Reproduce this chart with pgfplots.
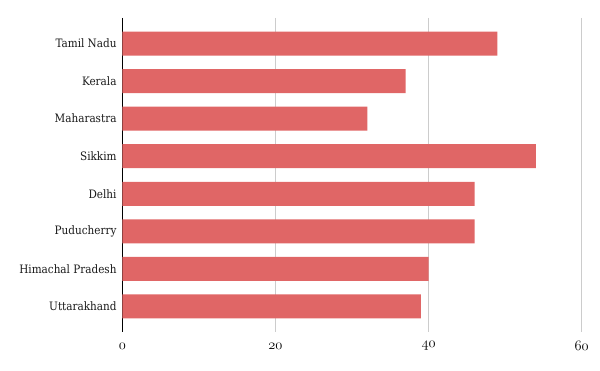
\documentclass[border=0pt]{standalone}
\usepackage{fontspec}
\setmainfont{DejaVu Serif Condensed}
\usepackage{pgfplots}
\pgfplotsset{compat=1.18}
\definecolor{barred}{HTML}{E06666}
\definecolor{gridgray}{HTML}{CCCCCC}
\definecolor{labelgray}{HTML}{1A1A1A}
\newcommand{\osn}[1]{{\fontencoding{OML}\fontfamily{lmm}\fontseries{m}\fontshape{it}\fontsize{14}{16}\selectfont #1}}
\begin{document}
\begin{tikzpicture}[x=1pt,y=1pt]
\useasboundingbox (-122.3,-39) rectangle (477.7,332);
\begin{axis}[at={(0,0)}, anchor=south west, scale only axis,
  width=459.4pt, height=314pt,
  xbar, xmin=0, xmax=60, ymin=-0.68, ymax=7.68, y dir=reverse,
  bar width=0.64,
  axis lines*=left,
  x axis line style={draw=none},
  y axis line style={draw=black, line width=0.8pt},
  major tick length=0pt,
  xtick={0,20,40,60},
  xticklabels={\osn{0},\osn{20},\osn{40},\osn{60}},
  ytick={0,...,7},
  yticklabels={Tamil Nadu,Kerala,Maharastra,Sikkim,Delhi,Puducherry,Himachal Pradesh,Uttarakhand},
  xmajorgrids, grid style={draw=gridgray, line width=0.8pt},
  yticklabel style={font=\fontsize{11.6}{13}\selectfont, text=labelgray, inner sep=0pt, anchor=east, xshift=-5.6pt},
  xticklabel style={inner sep=0pt, anchor=center, yshift=-14pt},
  clip=false,
]
\addplot[fill=barred, draw=none] coordinates {(49,0) (37,1) (32,2) (54,3) (46,4) (46,5) (40,6) (39,7)};
\end{axis}
\end{tikzpicture}
\end{document}
